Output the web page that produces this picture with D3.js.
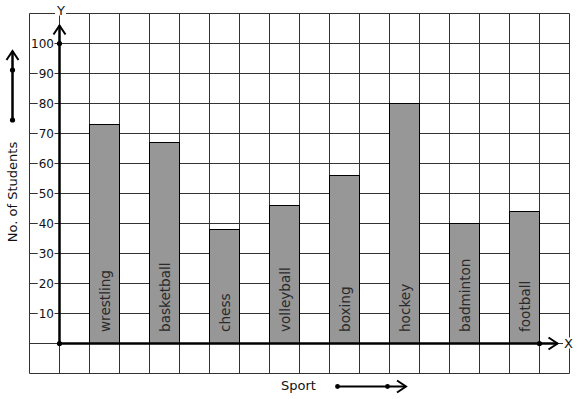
<!DOCTYPE html>
<html><head><meta charset="utf-8">
<script src="https://cdn.jsdelivr.net/npm/d3@7"></script>
<style>
html,body{margin:0;padding:0;background:#fff;}
svg{display:block;font-family:"DejaVu Sans",sans-serif;}
</style></head>
<body>
<svg id="chart" width="577" height="399"></svg>
<script>
const categories = ["wrestling","basketball","chess","volleyball","boxing","hockey","badminton","football"];
const values = [73, 67, 38, 46, 56, 80, 40, 44];
const yTicks = [10,20,30,40,50,60,70,80,90,100];
const yLabel = "No. of Students";
const xLabel = "Sport";

const svg = d3.select("#chart");
const y = d3.scaleLinear().domain([-10, 110]).range([373.5, 13.5]);
const gx = d3.scaleLinear().domain([-1, 17]).range([29.5, 569.5]); // grid units
const xb = d3.scaleBand().domain(categories).range([74.5, 554.5]).paddingInner(0.5).paddingOuter(0.25);

// grid
const grid = svg.append("g").attr("stroke","#333").attr("stroke-width",1);
d3.range(-1, 18).forEach(u => grid.append("line").attr("x1",gx(u)).attr("x2",gx(u)).attr("y1",y(110)).attr("y2",y(-10)));
d3.range(-10, 111, 10).forEach(v => grid.append("line").attr("x1",gx(-1)).attr("x2",gx(17)).attr("y1",y(v)).attr("y2",y(v)));

// bars
svg.append("g").selectAll("rect").data(categories).join("rect")
  .attr("x", d => xb(d)).attr("width", xb.bandwidth())
  .attr("y", (d,i) => y(values[i])).attr("height", (d,i) => y(0) - y(values[i]))
  .attr("fill","#979797").attr("stroke","#000").attr("stroke-width",1);

// bar labels
svg.append("g").selectAll("text").data(categories).join("text")
  .attr("transform", d => `translate(${xb(d)+xb.bandwidth()/2},332) rotate(-90)`)
  .attr("dominant-baseline","central").attr("text-anchor","start")
  .attr("font-size", 13.6).attr("fill","#2a2a2a").text(d => d);

// y tick labels with white backgrounds
const yAxis = svg.append("g").attr("transform","translate(59.5,0)")
  .call(d3.axisLeft(y).tickValues(yTicks).tickSize(0).tickPadding(5.5));
yAxis.select(".domain").remove();
yAxis.selectAll("text").attr("font-size",12).attr("font-family","DejaVu Sans").attr("fill","#111");
yAxis.selectAll(".tick").each(function(){
  const t = d3.select(this).select("text");
  const b = t.node().getBBox();
  d3.select(this).insert("rect","text").attr("x",b.x-1).attr("y",b.y+1).attr("width",b.width+1.5).attr("height",b.height-2).attr("fill","#fff");
});

// axes lines
const ax = svg.append("g").attr("stroke","#000").attr("fill","none").attr("stroke-width",2.5);
ax.append("line").attr("x1",gx(0)).attr("x2",gx(0)).attr("y1",y(0)).attr("y2",y(106)); 
ax.append("line").attr("x1",gx(0)).attr("x2",gx(16.6)).attr("y1",y(0)).attr("y2",y(0));
// arrowheads
ax.append("path").attr("stroke-width",2).attr("d",`M${gx(0)-6},${y(106)+9}L${gx(0)},${y(106)}L${gx(0)+6},${y(106)+9}`);
ax.append("path").attr("stroke-width",2).attr("d",`M${gx(16.6)-9},${y(0)-6}L${gx(16.6)},${y(0)}L${gx(16.6)-9},${y(0)+6}`);
// dots
svg.append("circle").attr("cx",gx(0)).attr("cy",y(100)).attr("r",2.6).attr("fill","#000");
svg.append("circle").attr("cx",gx(0)).attr("cy",y(0)).attr("r",2.6).attr("fill","#000");
svg.append("circle").attr("cx",gx(16)).attr("cy",y(0)).attr("r",2.6).attr("fill","#000");

// axis letters with white bg
function bgText(xp, yp, txt){
  const t = svg.append("text").attr("x",xp).attr("y",yp).attr("text-anchor","middle")
    .attr("dominant-baseline","central").attr("font-size",13).attr("fill","#111").text(txt);
  const b = t.node().getBBox();
  svg.insert("rect", () => t.node()).attr("x",b.x-1).attr("y",b.y+2).attr("width",b.width+2).attr("height",b.height-4).attr("fill","#fff");
}
bgText(61, 10, "Y");
bgText(568.5, 343, "X");

// left legend arrow
const lg = svg.append("g").attr("stroke","#000").attr("fill","none").attr("stroke-width",2.5);
lg.append("line").attr("x1",12.5).attr("x2",12.5).attr("y1",120).attr("y2",51);
lg.append("path").attr("stroke-width",2).attr("d","M6.5,60L12.5,51L18.5,60");
svg.append("circle").attr("cx",12.5).attr("cy",120).attr("r",2.6);
svg.append("circle").attr("cx",12.5).attr("cy",70).attr("r",2.6);
svg.append("text").attr("transform","translate(12,192) rotate(-90)").attr("text-anchor","middle")
  .attr("dominant-baseline","central").attr("font-size",13).attr("fill","#111").text(yLabel);

// bottom legend
svg.append("text").attr("x",298.5).attr("y",385.5).attr("text-anchor","middle")
  .attr("dominant-baseline","central").attr("font-size",13).attr("fill","#111").text(xLabel);
const bl = svg.append("g").attr("stroke","#000").attr("fill","none").attr("stroke-width",2);
bl.append("line").attr("x1",337.5).attr("x2",406).attr("y1",386.5).attr("y2",386.5);
bl.append("path").attr("d","M397,380.5L406,386.5L397,392.5");
svg.append("circle").attr("cx",337.5).attr("cy",386.5).attr("r",2.4);
svg.append("circle").attr("cx",387.5).attr("cy",386.5).attr("r",2.4);
</script>
</body></html>
